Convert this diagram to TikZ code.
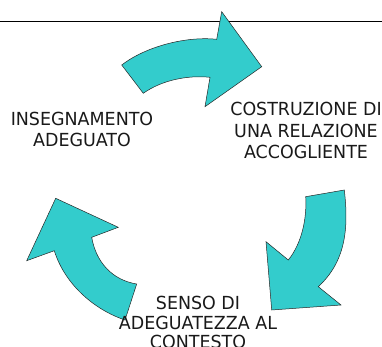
\documentclass[tikz,border=0pt]{standalone}
\usepackage{fontspec}
\setmainfont{DejaVu Sans}[FakeStretch=0.97]
\definecolor{arrowcyan}{RGB}{51,204,204}
\begin{document}
\begin{tikzpicture}[x=1pt,y=-1pt,
  cyclearrow/.style={fill=arrowcyan,draw=black!85,line width=0.5pt,line join=miter},
  label/.style={inner sep=0pt,outer sep=0pt,align=center,anchor=north,
    font=\fontsize{18}{21.7}\selectfont,text=black!90}]
\useasboundingbox (0,0) rectangle (382,347);
% top rule
\coordinate (ruleL) at (0,21);
\coordinate (ruleR) at (382,21);
\draw[line width=0.9pt] (ruleL) -- (ruleR);
% top arrow
\draw[cyclearrow] (121.7,65) -- (143.3,93.3)
  .. controls (162,80) and (188,75) .. (210,77.3)
  -- (205,106.7) -- (261.7,66.7) -- (221.7,11.7) -- (216.7,39.3)
  .. controls (185,36) and (145,47) .. cycle;
% right arrow
\draw[cyclearrow] (305.7,196.7) -- (344.3,190)
  .. controls (349,230) and (345,262) .. (318.3,286.7)
  -- (341,305) -- (271.7,310) -- (266,241.7) -- (288.3,260)
  .. controls (302,243) and (307,218) .. cycle;
% left arrow
\draw[cyclearrow] (55.7,198.3) -- (118.3,227.3) -- (91.7,237.3)
  .. controls (96,262) and (112,280) .. (136.7,284)
  -- (125,320)
  .. controls (95,310) and (65,285) .. (54.3,250.7)
  -- (26.7,260.7) -- cycle;
% labels
\node[label] (insegnamento) at (82,111.8) {INSEGNAMENTO\\ADEGUATO};
\node[label] (costruzione) at (306,102.2) {COSTRUZIONE DI\\UNA RELAZIONE\\ACCOGLIENTE};
\node[label,font=\fontsize{18}{19.8}\selectfont] (senso) at (198,296) {SENSO DI\\ADEGUATEZZA AL\\CONTESTO};
\end{tikzpicture}
\end{document}
